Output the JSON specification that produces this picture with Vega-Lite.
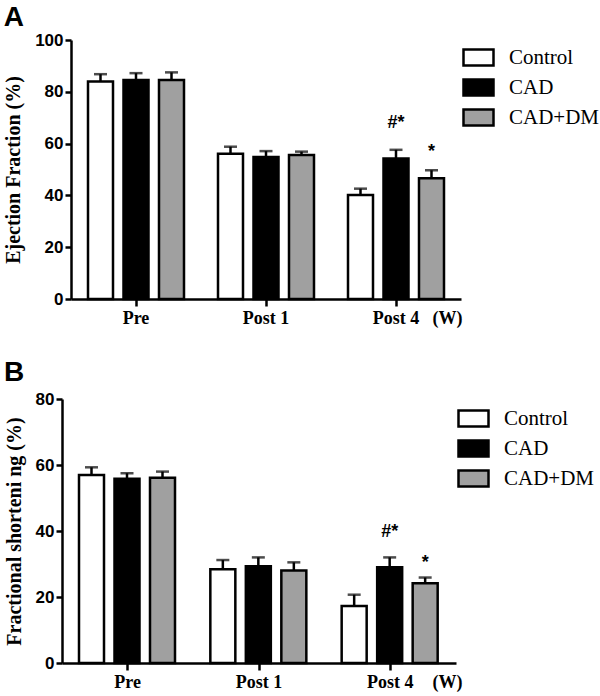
{
  "$schema": "https://vega.github.io/schema/vega-lite/v6.json",
  "background": "white",
  "padding": {"left": 3, "top": 4, "right": 3, "bottom": 3},
  "spacing": 32,
  "columns": 1,
  "align": "none",
  "center": false,
  "resolve": {"scale": {"fill": "independent"}, "legend": {"fill": "independent"}},
  "concat": [
    {
      "title": {"text": "A", "anchor": "start", "frame": "bounds", "font": "Liberation Sans", "fontWeight": "bold", "fontSize": 28, "offset": -1},
      "width": 399,
      "height": 259,
      "data": {"values": [
        {"time": "Pre", "group": "Control", "mean": 84.0, "upper": 86.8},
        {"time": "Pre", "group": "CAD", "mean": 84.6, "upper": 87.2},
        {"time": "Pre", "group": "CAD+DM", "mean": 84.6, "upper": 87.5},
        {"time": "Post 1", "group": "Control", "mean": 56.1, "upper": 58.8},
        {"time": "Post 1", "group": "CAD", "mean": 54.8, "upper": 57.1},
        {"time": "Post 1", "group": "CAD+DM", "mean": 55.6, "upper": 56.9},
        {"time": "Post 4", "group": "Control", "mean": 40.2, "upper": 42.6},
        {"time": "Post 4", "group": "CAD", "mean": 54.2, "upper": 57.6},
        {"time": "Post 4", "group": "CAD+DM", "mean": 46.6, "upper": 49.7}
      ]},
      "encoding": {
        "x": {"field": "time", "type": "nominal", "sort": ["Pre", "Post 1", "Post 4"], "scale": {"paddingInner": 0, "paddingOuter": 0, "range": [9, 399]}, "axis": {"title": "(W)", "titleAnchor": "end", "titleY": 10, "titleBaseline": "top", "titleFont": "Liberation Serif", "titleFontWeight": "bold", "titleFontSize": 18, "titleAlign": "right", "titleX": 400}},
        "xOffset": {"field": "group", "type": "nominal", "sort": ["Control", "CAD", "CAD+DM"], "scale": {"paddingInner": 0.296, "paddingOuter": 0.479}}
      },
      "layer": [
        {"mark": {"type": "rule", "strokeWidth": 2.5, "color": "black"},
         "encoding": {"y": {"field": "mean", "type": "quantitative", "scale": {"domain": [0, 100]}, "axis": {"title": "Ejection Fraction (%)", "values": [0, 20, 40, 60, 80, 100], "titlePadding": 11, "offset": -9}}, "y2": {"field": "upper"}}},
        {"mark": {"type": "tick", "orient": "horizontal", "size": 13, "thickness": 2.5, "color": "black"},
         "encoding": {"y": {"field": "upper", "type": "quantitative", "scale": {"domain": [0, 100]}, "axis": {"title": "Ejection Fraction (%)", "values": [0, 20, 40, 60, 80, 100], "titlePadding": 11, "offset": -9}}}},
        {"mark": {"type": "bar", "stroke": "black", "strokeWidth": 2.5, "width": 25},
         "encoding": {
           "y": {"field": "mean", "type": "quantitative", "scale": {"domain": [0, 100]}, "axis": {"title": "Ejection Fraction (%)", "values": [0, 20, 40, 60, 80, 100], "titlePadding": 11, "offset": -9}},
           "fill": {"field": "group", "type": "nominal", "sort": ["Control", "CAD", "CAD+DM"], "scale": {"domain": ["Control", "CAD", "CAD+DM"], "range": ["#ffffff", "#000000", "#a0a0a0"]}, "legend": {"legendX": 400, "legendY": 1, "labelFont": "Liberation Serif", "labelFontSize": 21, "labelFontWeight": "normal"}}
         }},
        {"data": {"values": [
           {"time": "Post 4", "group": "CAD", "label": "#*", "pos": 66.0},
           {"time": "Post 4", "group": "CAD+DM", "label": "*", "pos": 54.8}
         ]},
         "mark": {"type": "text", "font": "Liberation Sans", "fontWeight": "bold", "fontSize": 18, "baseline": "alphabetic", "align": "center", "color": "black"},
         "encoding": {"y": {"field": "pos", "type": "quantitative", "scale": {"domain": [0, 100]}, "axis": {"title": "Ejection Fraction (%)", "values": [0, 20, 40, 60, 80, 100], "titlePadding": 11, "offset": -9}}, "text": {"field": "label"}}}
      ]
    },
    {
      "title": {"text": "B", "anchor": "start", "frame": "bounds", "font": "Liberation Sans", "fontWeight": "bold", "fontSize": 28, "offset": 3},
      "width": 394,
      "height": 264,
      "data": {"values": [
        {"time": "Pre", "group": "Control", "mean": 57.0, "upper": 59.3},
        {"time": "Pre", "group": "CAD", "mean": 55.8, "upper": 57.5},
        {"time": "Pre", "group": "CAD+DM", "mean": 56.1, "upper": 58.0},
        {"time": "Post 1", "group": "Control", "mean": 28.4, "upper": 31.2},
        {"time": "Post 1", "group": "CAD", "mean": 29.3, "upper": 32.0},
        {"time": "Post 1", "group": "CAD+DM", "mean": 28.0, "upper": 30.5},
        {"time": "Post 4", "group": "Control", "mean": 17.3, "upper": 20.7},
        {"time": "Post 4", "group": "CAD", "mean": 29.0, "upper": 32.0},
        {"time": "Post 4", "group": "CAD+DM", "mean": 24.2, "upper": 25.9}
      ]},
      "encoding": {
        "x": {"field": "time", "type": "nominal", "sort": ["Pre", "Post 1", "Post 4"], "scale": {"paddingInner": 0, "paddingOuter": 0}, "axis": {"title": "(W)", "titleAnchor": "end", "titleY": 10, "titleBaseline": "top", "titleFont": "Liberation Serif", "titleFontWeight": "bold", "titleFontSize": 18, "titleAlign": "right", "titleX": 400}},
        "xOffset": {"field": "group", "type": "nominal", "sort": ["Control", "CAD", "CAD+DM"], "scale": {"paddingInner": 0.296, "paddingOuter": 0.479}}
      },
      "layer": [
        {"mark": {"type": "rule", "strokeWidth": 2.5, "color": "black"},
         "encoding": {"y": {"field": "mean", "type": "quantitative", "scale": {"domain": [0, 80]}, "axis": {"title": "Fractional shorteni ng (%)", "values": [0, 20, 40, 60, 80], "titlePadding": 11}}, "y2": {"field": "upper"}}},
        {"mark": {"type": "tick", "orient": "horizontal", "size": 13, "thickness": 2.5, "color": "black"},
         "encoding": {"y": {"field": "upper", "type": "quantitative", "scale": {"domain": [0, 80]}, "axis": {"title": "Fractional shorteni ng (%)", "values": [0, 20, 40, 60, 80], "titlePadding": 11}}}},
        {"mark": {"type": "bar", "stroke": "black", "strokeWidth": 2.5, "width": 25},
         "encoding": {
           "y": {"field": "mean", "type": "quantitative", "scale": {"domain": [0, 80]}, "axis": {"title": "Fractional shorteni ng (%)", "values": [0, 20, 40, 60, 80], "titlePadding": 11}},
           "fill": {"field": "group", "type": "nominal", "sort": ["Control", "CAD", "CAD+DM"], "scale": {"domain": ["Control", "CAD", "CAD+DM"], "range": ["#ffffff", "#000000", "#a0a0a0"]}, "legend": {"legendX": 395, "legendY": 3, "labelFont": "Liberation Serif", "labelFontSize": 21, "labelFontWeight": "normal"}}
         }},
        {"data": {"values": [
           {"time": "Post 4", "group": "CAD", "label": "#*", "pos": 38.3},
           {"time": "Post 4", "group": "CAD+DM", "label": "*", "pos": 28.9}
         ]},
         "mark": {"type": "text", "font": "Liberation Sans", "fontWeight": "bold", "fontSize": 18, "baseline": "alphabetic", "align": "center", "color": "black"},
         "encoding": {"y": {"field": "pos", "type": "quantitative", "scale": {"domain": [0, 80]}, "axis": {"title": "Fractional shorteni ng (%)", "values": [0, 20, 40, 60, 80], "titlePadding": 11}}, "text": {"field": "label"}}}
      ]
    }
  ],
  "config": {
    "view": {"stroke": null},
    "axis": {"domainColor": "black", "domainWidth": 2.5, "tickColor": "black", "tickWidth": 2.5, "grid": false, "labelColor": "black", "titleColor": "black"},
    "axisY": {"labelFont": "Liberation Sans", "labelFontWeight": "bold", "labelFontSize": 17, "tickSize": 6, "labelPadding": 2, "titleFont": "Liberation Serif", "titleFontWeight": "bold", "titleFontSize": 20, "titlePadding": 8},
    "axisX": {"labelFont": "Liberation Serif", "labelFontWeight": "bold", "labelFontSize": 18, "labelAngle": 0, "tickSize": 7, "labelPadding": 3},
    "legend": {"orient": "none", "padding": 0, "rowPadding": 0, "title": null, "symbolType": "M-1,-0.533H1V0.533H-1Z", "symbolSize": 900, "symbolStrokeColor": "black", "symbolStrokeWidth": 2.5, "labelFont": "Liberation Serif", "labelFontSize": 21, "labelColor": "black", "labelOffset": 14}
  }
}
